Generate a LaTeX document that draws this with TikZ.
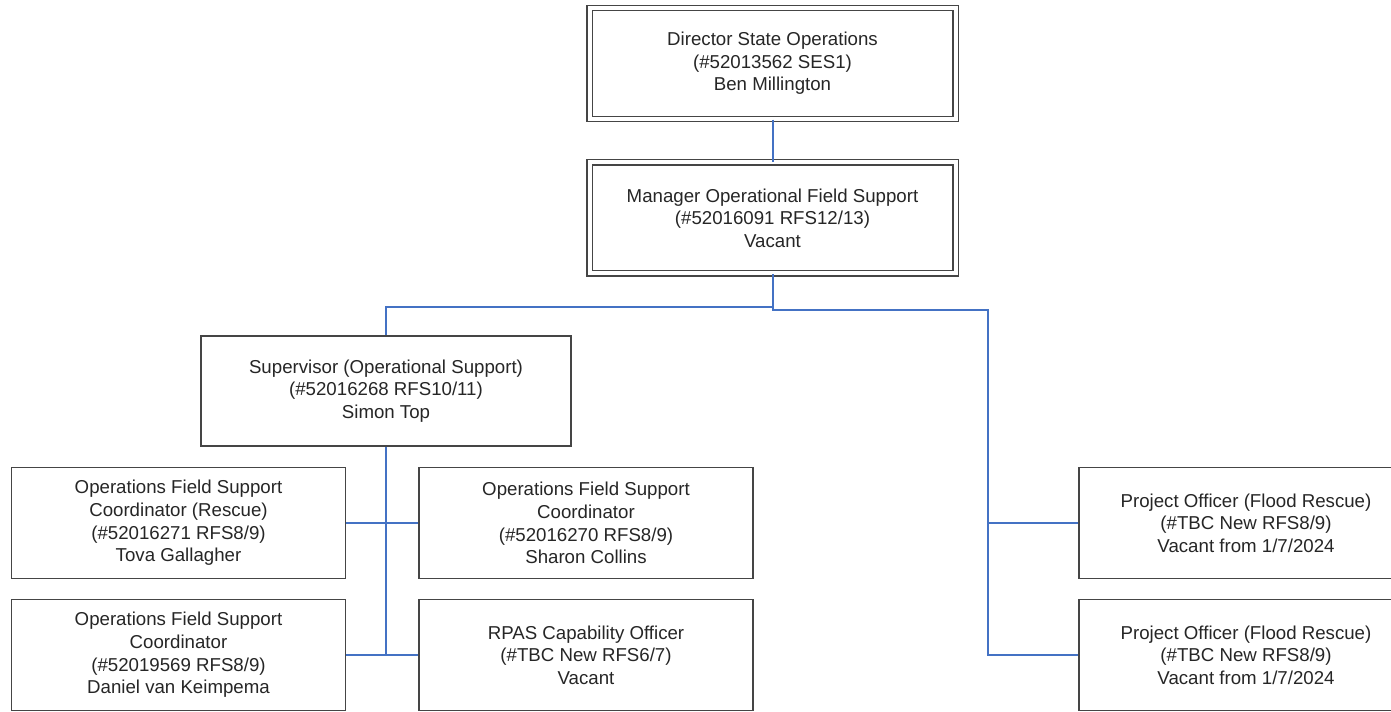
\documentclass[tikz,border=0pt]{standalone}
\usepackage{fontspec}
\setmainfont{Liberation Sans}
\usepackage{xcolor}
\definecolor{linkblue}{HTML}{4472C4}
\definecolor{boxgray}{HTML}{454545}
\definecolor{txtgray}{HTML}{262626}

\tikzset{
  post/.style={draw=boxgray, line width=0.85pt, fill=white, align=center, text=txtgray,
    font=\fontsize{14}{17}\selectfont, inner sep=0pt},
  toppost/.style={post, double=white, double distance=3pt, line width=0.8pt,
    minimum width=274.5pt, minimum height=83.25pt},
  midpost/.style={post, minimum width=277.5pt, minimum height=82.5pt},
  lowpost/.style={post, minimum width=250.5pt, minimum height=83.25pt},
  link/.style={draw=linkblue, line width=1.5pt}
}

\begin{document}
\begin{tikzpicture}[x=0.75pt, y=-0.75pt]
	\clip (0,0) rectangle (1391,712);
	\fill[white] (0,0) rectangle (1391,712);

	% Top of the chart
	\node[toppost] (dir) at (772.5,63.5) {Director State Operations\\(\#52013562 SES1)\\Ben Millington};
	\node[toppost] (mgr) at (772.5,218) {Manager Operational Field Support\\(\#52016091 RFS12/13)\\Vacant};

	% Supervisor and his team
	\node[midpost] (sup) at (386,391) {Supervisor (Operational Support)\\(\#52016268 RFS10/11)\\Simon Top};
	\node[lowpost] (ofs1) at (178.5,523) {Operations Field Support\\Coordinator (Rescue)\\(\#52016271 RFS8/9)\\Tova Gallagher};
	\node[lowpost] (ofs2) at (586,523) {Operations Field Support\\Coordinator\\(\#52016270 RFS8/9)\\Sharon Collins};
	\node[lowpost] (ofs3) at (178.5,655) {Operations Field Support\\Coordinator\\(\#52019569 RFS8/9)\\Daniel van Keimpema};
	\node[lowpost] (rpas) at (586,655) {RPAS Capability Officer\\(\#TBC New RFS6/7)\\Vacant};

	% Project officers on the right
	\node[lowpost] (po1) at (1246,523) {Project Officer (Flood Rescue)\\(\#TBC New RFS8/9)\\Vacant from 1/7/2024};
	\node[lowpost] (po2) at (1246,655) {Project Officer (Flood Rescue)\\(\#TBC New RFS8/9)\\Vacant from 1/7/2024};

	% Reporting lines
	\coordinate (lbus) at (772.5,307);
	\coordinate (rbus) at (988,310);
	\draw[link] (dir.south) -- (mgr.north);
	\draw[link] (mgr.south) -- (lbus) -| (sup.north);
	\draw[link] (mgr.south) |- (rbus) |- (po2.west);
	\draw[link] (po1.west) -- (po1.west -| rbus);
	\draw[link] (sup.south) -- (sup.south |- rpas.west);
	\draw[link] (ofs1.east) -- (ofs2.west);
	\draw[link] (ofs3.east) -- (rpas.west);
\end{tikzpicture}
\end{document}
